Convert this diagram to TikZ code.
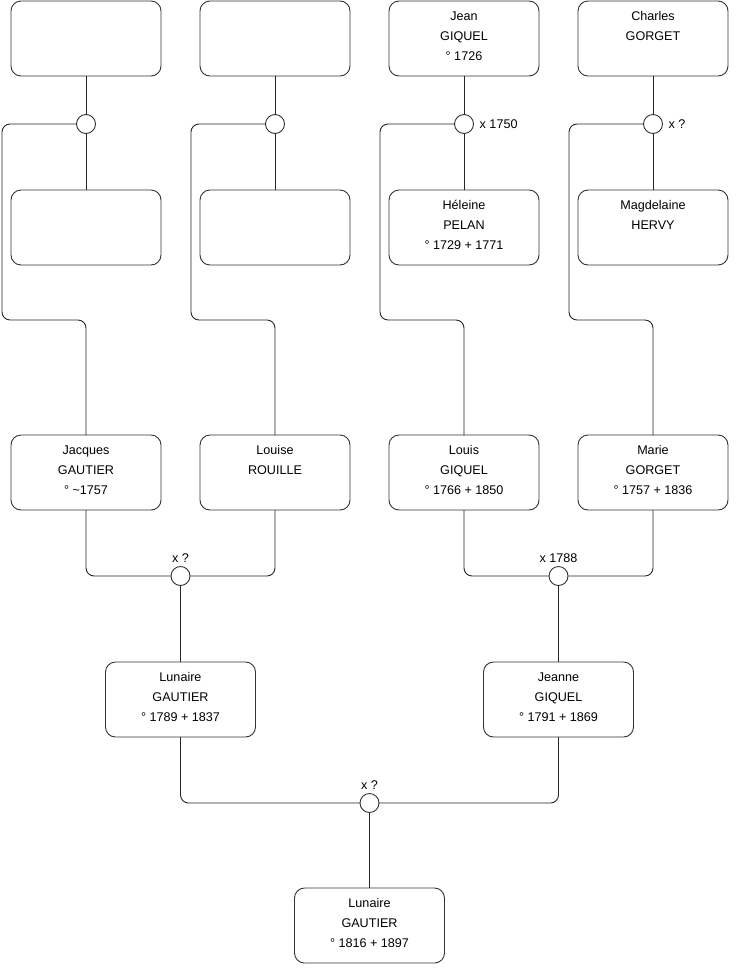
\documentclass[tikz,border=0pt]{standalone}
\usepackage{fontspec}
\setmainfont{Liberation Sans}
\usetikzlibrary{positioning}
\newcommand{\ancestor}[3]{\parbox[t][75pt][t]{150pt}{\centering\rule{0pt}{19.5pt}#1\\\mbox{}#2\\\mbox{}#3}}
\tikzset{
    % family tree boxes
    personbox/.style={
        rectangle,
        rounded corners=10pt,
        draw=black!80,
        fill=white,
        line width=0.9pt,
        inner sep=0pt,
        outer sep=0pt,
        font=\fontsize{12.6pt}{20pt}\selectfont
    },
    unionring/.style={
        circle,
        draw=black!80,
        fill=white,
        line width=0.9pt,
        minimum size=19pt,
        inner sep=0pt,
        outer sep=0pt
    },
    datenote/.style={
        inner sep=0pt,
        font=\fontsize{12.6pt}{14pt}\selectfont
    },
    link/.style={
        draw=black!85,
        line width=0.9pt,
        rounded corners=8pt
    }
}
\begin{document}
\begin{tikzpicture}[x=1pt, y=-1pt]
    \useasboundingbox (0,0) rectangle (740,975);

    % great-grandparents
    \node[personbox] (gautierF) at (86,38.5) {\ancestor{}{}{}};
    \node[personbox, right=39pt of gautierF] (rouilleF) {\ancestor{}{}{}};
    \node[personbox, right=39pt of rouilleF] (jean) {\ancestor{Jean}{GIQUEL}{° 1726}};
    \node[personbox, right=39pt of jean] (charles) {\ancestor{Charles}{GORGET}{}};

    \node[personbox, below=114pt of gautierF] (gautierM) {\ancestor{}{}{}};
    \node[personbox, below=114pt of rouilleF] (rouilleM) {\ancestor{}{}{}};
    \node[personbox, below=114pt of jean] (heleine) {\ancestor{Héleine}{PELAN}{° 1729 + 1771}};
    \node[personbox, below=114pt of charles] (magdelaine) {\ancestor{Magdelaine}{HERVY}{}};

    % grandparents
    \node[personbox, below=170pt of gautierM] (jacques) {\ancestor{Jacques}{GAUTIER}{° \textasciitilde1757}};
    \node[personbox, below=170pt of rouilleM] (louise) {\ancestor{Louise}{ROUILLE}{}};
    \node[personbox, below=170pt of heleine] (louis) {\ancestor{Louis}{GIQUEL}{° 1766 + 1850}};
    \node[personbox, below=170pt of magdelaine] (marie) {\ancestor{Marie}{GORGET}{° 1757 + 1836}};

    % parents and child
    \node[personbox] (lunaireP) at (180.5,699.5) {\ancestor{Lunaire}{GAUTIER}{° 1789 + 1837}};
    \node[personbox] (jeanne) at (558.5,699.5) {\ancestor{Jeanne}{GIQUEL}{° 1791 + 1869}};
    \node[personbox] (lunaire) at (369.5,925.5) {\ancestor{Lunaire}{GAUTIER}{° 1816 + 1897}};

    % unions
    \node[unionring] (uGautier) at (86,124) {};
    \node[unionring] (uRouille) at (275,124) {};
    \node[unionring] (uGiquel) at (464,124) {};
    \node[unionring] (uGorget) at (653,124) {};
    \node[unionring] (uJacques) at (180.5,576) {};
    \node[unionring] (uLouis) at (558.5,576) {};
    \node[unionring] (uLunaire) at (369.5,803) {};

    \node[datenote, right=6pt of uGiquel] (dGiquel) {x 1750};
    \node[datenote, right=6pt of uGorget] (dGorget) {x ?};
    \node[datenote, above=4pt of uJacques] (dJacques) {x ?};
    \node[datenote, above=4pt of uLouis] (dLouis) {x 1788};
    \node[datenote, above=4pt of uLunaire] (dLunaire) {x ?};

    % top links
    \draw[link] (gautierF) -- (uGautier);
    \draw[link] (uGautier) -- (gautierM);
    \draw[link] (rouilleF) -- (uRouille);
    \draw[link] (uRouille) -- (rouilleM);
    \draw[link] (jean) -- (uGiquel);
    \draw[link] (uGiquel) -- (heleine);
    \draw[link] (charles) -- (uGorget);
    \draw[link] (uGorget) -- (magdelaine);

    \draw[link] (uGautier.west) -| (2,320) -| (jacques.north);
    \draw[link] (uRouille.west) -| (191,320) -| (louise.north);
    \draw[link] (uGiquel.west) -| (380,320) -| (louis.north);
    \draw[link] (uGorget.west) -| (569,320) -| (marie.north);

    % lower links
    \draw[link] (jacques.south) |- (uJacques.west);
    \draw[link] (louise.south) |- (uJacques.east);
    \draw[link] (uJacques) -- (lunaireP);
    \draw[link] (louis.south) |- (uLouis.west);
    \draw[link] (marie.south) |- (uLouis.east);
    \draw[link] (uLouis) -- (jeanne);
    \draw[link] (lunaireP.south) |- (uLunaire.west);
    \draw[link] (jeanne.south) |- (uLunaire.east);
    \draw[link] (uLunaire) -- (lunaire);
\end{tikzpicture}
\end{document}
